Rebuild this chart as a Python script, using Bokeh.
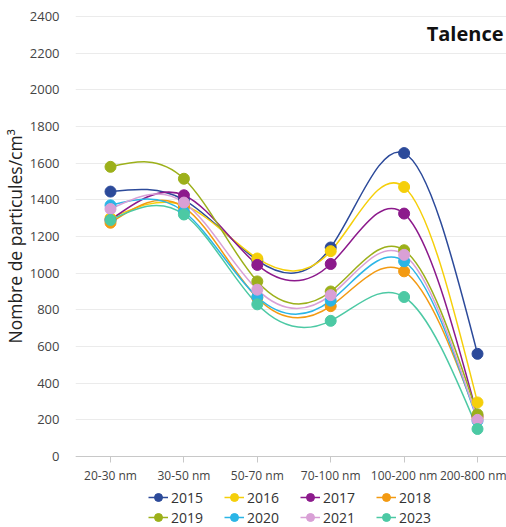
from bokeh.plotting import figure
from bokeh.models import Range1d, FixedTicker, Legend, LegendItem, Label, Title
from bokeh.embed import file_html
from bokeh.resources import INLINE

# ---------------- data ----------------
categories = ["20-30 nm", "30-50 nm", "50-70 nm", "70-100 nm", "100-200 nm", "200-800 nm"]
years = ["2015", "2016", "2017", "2018", "2019", "2020", "2021", "2023"]
v2015 = [1445, 1400, 1070, 1140, 1655, 560]
v2016 = [1300, 1370, 1080, 1120, 1470, 295]
v2017 = [1290, 1425, 1045, 1050, 1325, 220]
v2018 = [1275, 1360, 865, 820, 1010, 210]
v2019 = [1580, 1515, 955, 900, 1125, 230]
v2020 = [1370, 1335, 870, 850, 1065, 195]
v2021 = [1350, 1385, 910, 880, 1100, 200]
v2023 = [1290, 1320, 830, 740, 870, 150]
series = [v2015, v2016, v2017, v2018, v2019, v2020, v2021, v2023]
colors = ["#2C4A9A", "#F5CF0A", "#8C1A8C", "#F39A12",
          "#9CB01A", "#2BB5E6", "#D9A0D6", "#4CC9A4"]
y_ticks = [0, 200, 400, 600, 800, 1000, 1200, 1400, 1600, 1800, 2000, 2200, 2400]

FONT = "Open Sans"


def natural_controls(vals):
    """Bezier control points of a natural cubic spline (as d3.curveNatural)."""
    x = [float(v) for v in vals]
    n = len(x) - 1
    a = [0.0] * n
    b = [0.0] * n
    r = [0.0] * n
    a[0], b[0], r[0] = 0.0, 2.0, x[0] + 2 * x[1]
    for i in range(1, n - 1):
        a[i], b[i], r[i] = 1.0, 4.0, 4 * x[i] + 2 * x[i + 1]
    a[n - 1], b[n - 1], r[n - 1] = 2.0, 7.0, 8 * x[n - 1] + x[n]
    for i in range(1, n):
        m = a[i] / b[i - 1]
        b[i] -= m
        r[i] -= m * r[i - 1]
    a[n - 1] = r[n - 1] / b[n - 1]
    for i in range(n - 2, -1, -1):
        a[i] = (r[i] - a[i + 1]) / b[i]
    b[n - 1] = (x[n] + a[n - 1]) / 2
    for i in range(n - 1):
        b[i] = 2 * x[i + 1] - a[i + 1]
    return a, b


xs = list(range(len(categories)))

# frame spans the whole height below the top border; the x axis is pinned at y=0
p = figure(width=506, height=527,
           x_range=Range1d(-0.477, 5.395), y_range=Range1d(-387.3, 2421.8),
           output_backend="svg", toolbar_location=None,
           min_border_left=75, min_border_right=0,
           min_border_top=12, min_border_bottom=0)
p.outline_line_color = None
p.background_fill_color = "white"
p.border_fill_color = "white"

# grid
p.xgrid.grid_line_color = None
p.ygrid.grid_line_color = "#EBEBEB"
p.ygrid.grid_line_width = 1

# axes
p.xaxis.fixed_location = 0
p.xaxis.ticker = FixedTicker(ticks=xs)
p.xaxis.major_label_overrides = {i: c for i, c in enumerate(categories)}
p.xaxis.axis_line_color = "#C8C8C8"
p.xaxis.major_tick_line_color = "#C8C8C8"
p.xaxis.major_tick_out = 6
p.xaxis.major_tick_in = 0
p.xaxis.minor_tick_line_color = None
p.xaxis.major_label_standoff = 5
p.xaxis.major_label_text_font = FONT
p.xaxis.major_label_text_font_size = "12px"
p.xaxis.major_label_text_color = "#444444"

p.yaxis.ticker = FixedTicker(ticks=y_ticks)
p.yaxis.axis_line_color = None
p.yaxis.major_tick_line_color = None
p.yaxis.minor_tick_line_color = None
p.yaxis.major_label_standoff = 10
p.yaxis.major_label_text_font = FONT
p.yaxis.major_label_text_font_size = "13px"
p.yaxis.major_label_text_color = "#444444"

# y axis title, anchored so that it sits beside the 0-2400 span
ytitle = Title(text="Nombre de particules/cm³", align="left", offset=184,
               standoff=0, text_font=FONT, text_font_size="17.5px",
               text_font_style="normal", text_color="#222222")
p.add_layout(ytitle, "left")

# lines (natural spline drawn as bezier segments)
line_renderers = []
ctrl_x = natural_controls(xs)
for vals, col in zip(series, colors):
    ay, by = natural_controls(vals)
    r = p.bezier(x0=xs[:-1], y0=vals[:-1], x1=xs[1:], y1=vals[1:],
                 cx0=ctrl_x[0], cy0=ay, cx1=ctrl_x[1], cy1=by,
                 line_color=col, line_width=1.5)
    line_renderers.append(r)

# markers
marker_renderers = []
for vals, col in zip(series, colors):
    r = p.scatter(xs, vals, marker="circle", size=11,
                  fill_color=col, line_color=col)
    marker_renderers.append(r)

items = [LegendItem(label=y, renderers=[lr, mr])
         for y, lr, mr in zip(years, line_renderers, marker_renderers)]
legend = Legend(items=items, orientation="horizontal", ncols=4,
                location=(73, 0), padding=0, margin=0, spacing=0,
                glyph_width=20, glyph_height=20, label_height=20,
                label_width=53, label_standoff=3,
                label_text_font=FONT, label_text_font_size="14px",
                label_text_color="#333333",
                border_line_color=None, background_fill_alpha=0)
p.add_layout(legend)

title = Label(x=5.354, y=2307, text="Talence", text_align="right",
              text_baseline="middle", text_font=FONT, text_font_size="20px",
              text_font_style="bold", text_color="#111111")
p.add_layout(title)

open("out.html", "w").write(file_html(p, INLINE))
